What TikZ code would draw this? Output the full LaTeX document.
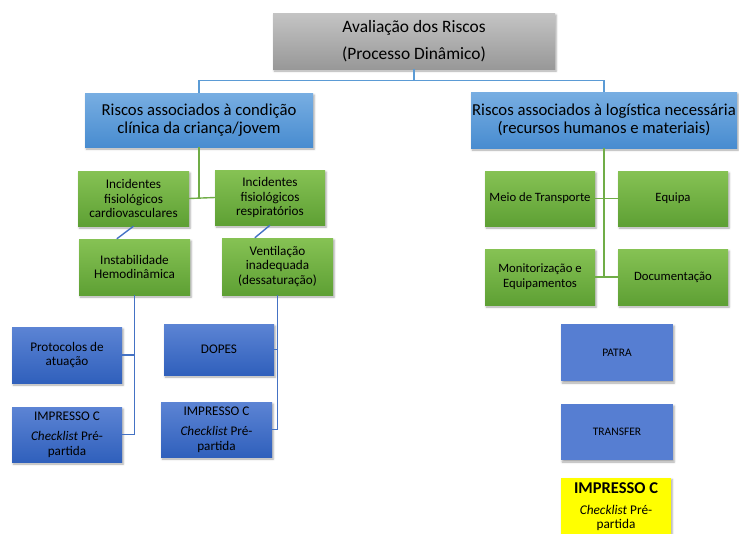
\documentclass[tikz,border=0pt]{standalone}
\usepackage{fontspec}
\setmainfont{Carlito}
\usetikzlibrary{shadows.blur}

\definecolor{lineblue}{RGB}{91,155,213}
\definecolor{linegreen}{RGB}{112,173,71}
\definecolor{linedark}{RGB}{68,114,196}

\begin{document}
\begin{tikzpicture}[x=1pt,y=-1pt,
  box/.style={rectangle, inner sep=0pt, align=center, text=black,
    minimum width=110pt, minimum height=55pt,
    blur shadow={shadow xshift=1.2pt, shadow yshift=-2pt, shadow opacity=35, shadow blur radius=2pt}},
  graybox/.style={box, top color={rgb,255:red,196;green,196;blue,196}, bottom color={rgb,255:red,152;green,152;blue,152}},
  headbox/.style={box, top color={rgb,255:red,120;green,174;blue,226}, bottom color={rgb,255:red,72;green,140;blue,208},
    font=\fontsize{16.7}{18.5}\selectfont},
  greenbox/.style={box, top color={rgb,255:red,134;green,194;blue,84}, bottom color={rgb,255:red,94;green,160;blue,52},
    font=\fontsize{13.2}{14.5}\selectfont},
  bluebox/.style={box, top color={rgb,255:red,92;green,132;blue,212}, bottom color={rgb,255:red,48;green,96;blue,188},
    font=\fontsize{13.2}{14.5}\selectfont},
  flatblue/.style={box, fill={rgb,255:red,86;green,126;blue,210}, font=\fontsize{11.5}{13}\selectfont},
  yellowbox/.style={box, fill={rgb,255:red,255;green,255;blue,0}, font=\fontsize{13.3}{14}\selectfont},
  toplink/.style={draw=lineblue, line width=1.4pt},
  midlink/.style={draw=linegreen, line width=1.4pt},
  lowlink/.style={draw=linedark, line width=1.4pt}
]
\useasboundingbox (0,0) rectangle (739,533);

% root
\node[graybox, minimum width=282pt, minimum height=56pt,
  font=\fontsize{17.4}{27}\selectfont] (root) at (414,41)
  {Avaliação dos Riscos\\(Processo Dinâmico)};

% two main branches
\node[headbox, minimum width=228pt, minimum height=54pt] (hL) at (199,120)
  {Riscos associados à condição\\clínica da criança/jovem};
\node[headbox, minimum width=266pt, minimum height=56pt] (hR) at (604,120)
  {Riscos associados à logística necessária\\(recursos humanos e materiais)};

% clinical branch
\node[greenbox, minimum width=111pt] (cardio) at (133.5,198.5)
  {Incidentes\\fisiológicos\\cardiovasculares};
\node[greenbox] (resp) at (270,197.5)
  {Incidentes\\fisiológicos\\respiratórios};
\node[greenbox, minimum width=111pt, minimum height=56pt] (instab) at (134.5,267)
  {Instabilidade\\Hemodinâmica};
\node[greenbox, minimum width=111pt, minimum height=57pt] (vent) at (277.5,266.5)
  {Ventilação\\inadequada\\(dessaturação)};

\node[bluebox, minimum height=56pt] (prot) at (67,355)
  {Protocolos de\\atuação};
\node[bluebox] (impA) at (67,434.5)
  {IMPRESSO C\\[6pt]\textit{Checklist} Pré-\\partida};
\node[bluebox, minimum height=51pt] (dopes) at (219,349.5) {DOPES};
\node[bluebox, minimum width=111pt] (impB) at (216.5,429.5)
  {IMPRESSO C\\[6pt]\textit{Checklist} Pré-\\partida};

% logistics branch
\node[greenbox, font=\fontsize{12.7}{15}\selectfont] (meio) at (540,198.5) {Meio de Transporte};
\node[greenbox, font=\fontsize{12.7}{15}\selectfont] (equipa) at (673,198.5) {Equipa};
\node[greenbox, minimum height=56pt, font=\fontsize{12.7}{15}\selectfont] (monit) at (540,277)
  {Monitorização e\\Equipamentos};
\node[greenbox, minimum height=56pt, font=\fontsize{12.7}{15}\selectfont] (doc) at (673,277) {Documentação};

\node[flatblue, minimum width=112pt, minimum height=57pt] (patra) at (617,352.5) {PATRA};
\node[flatblue, minimum width=112pt, minimum height=56pt] (transfer) at (617,432) {TRANSFER};
\node[yellowbox, minimum height=58pt] (impC) at (616,506.5)
  {{\fontsize{16.5}{18}\selectfont\bfseries IMPRESSO C}\\[7pt]
   \textit{Checklist} Pré-\\partida};

% connectors: root to branches
\draw[toplink] (root.south) -- ++(0,11) -| (hL.north);
\draw[toplink] (root.south) -- ++(0,11) -| (hR.north);

% clinical branch connectors
\draw[midlink] (hL.south) |- (cardio.east);
\draw[midlink] (cardio.east) -- (resp.west);
\draw[lowlink] (cardio.south) -- ([xshift=38pt]instab.north west);
\draw[lowlink] (resp.south) -- ([xshift=33pt]vent.north west);
\draw[lowlink] (instab.south) |- (impA.east);
\draw[lowlink] (prot.east) -- (prot.east -| instab.south);
\draw[lowlink] (vent.south) |- (impB.east);
\draw[lowlink] (dopes.east) -- (dopes.east -| vent.south);

% logistics branch connectors
\draw[midlink] (hR.south) |- (monit.east);
\draw[midlink] (meio.east) -- (equipa.west);
\draw[midlink] (monit.east) -- (doc.west);
\end{tikzpicture}
\end{document}
